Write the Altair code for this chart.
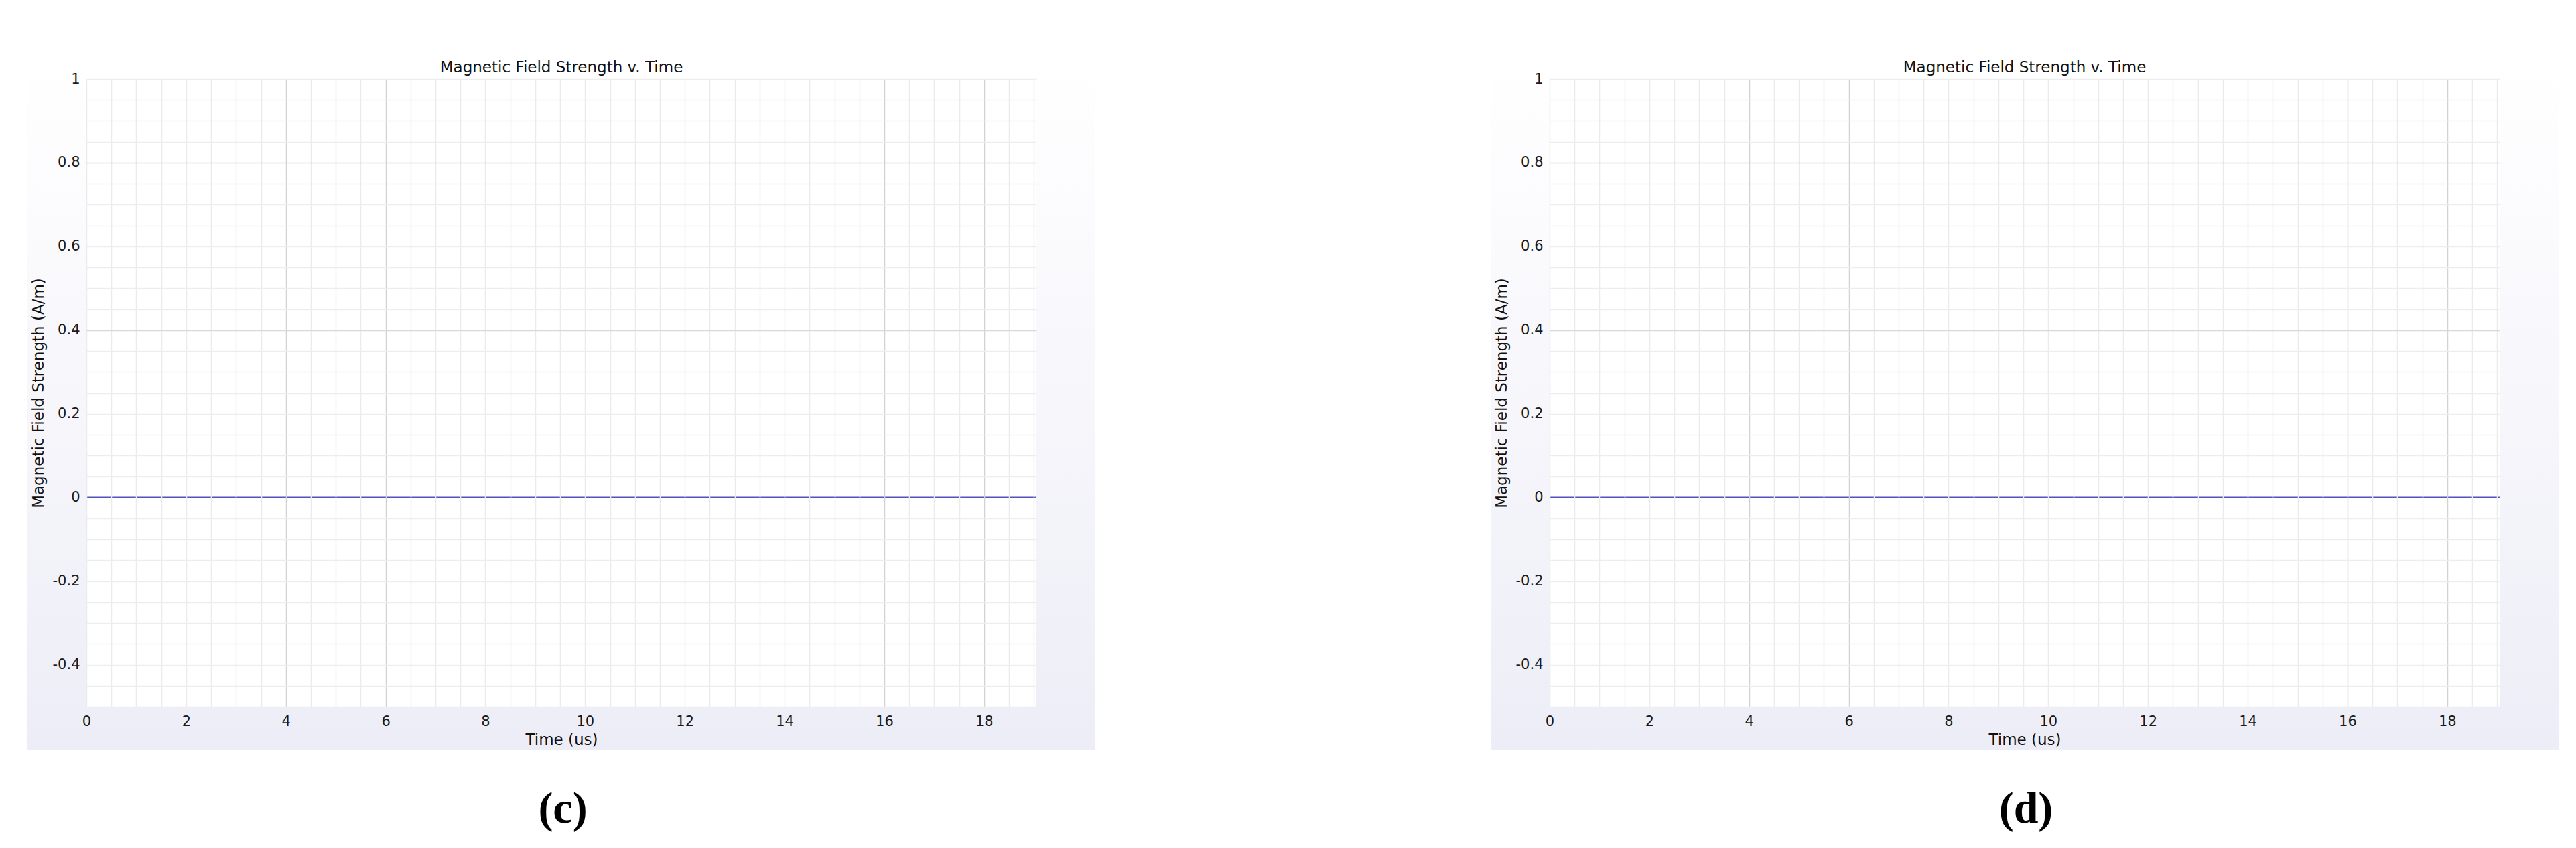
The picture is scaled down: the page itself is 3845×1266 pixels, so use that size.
import altair as alt
import pandas as pd

# ---------------- data ----------------
time_us = [0.0, 19.05]
field_c = [0.0, 0.0]
field_d = [0.0, 0.0]

x_domain = [0, 19.05]
y_domain = [-0.5, 1.0]
x_grid_ticks = [0, 0.5, 1, 1.5, 2, 2.5, 3, 3.5, 4, 4.5, 5, 5.5, 6, 6.5, 7, 7.5, 8, 8.5, 9, 9.5,
                10, 10.5, 11, 11.5, 12, 12.5, 13, 13.5, 14, 14.5, 15, 15.5, 16, 16.5, 17, 17.5, 18, 18.5, 19]
x_label_ticks = [0, 2, 4, 6, 8, 10, 12, 14, 16, 18]
dark_x_grid = [4, 6, 16, 18]
y_grid_ticks = [-0.5, -0.45, -0.4, -0.35, -0.3, -0.25, -0.2, -0.15, -0.1, -0.05, 0.0,
                0.05, 0.1, 0.15, 0.2, 0.25, 0.3, 0.35, 0.4, 0.45, 0.5,
                0.55, 0.6, 0.65, 0.7, 0.75, 0.8, 0.85, 0.9, 0.95, 1.0]
y_label_ticks = [-0.4, -0.2, 0, 0.2, 0.4, 0.6, 0.8, 1]
dark_y_grid = [0.8, 0.4]

chart_title = "Magnetic Field Strength v. Time"
x_title = "Time (us)"
y_title = "Magnetic Field Strength (A/m)"
captions = ["(c)", "(d)"]

# ---------------- layout ----------------
W, H = 1418, 937
PAD_L, PAD_R, PAD_T, PAD_B = 88, 88, 42, 64
FONT = "DejaVu Sans"

x_lab_list = ",".join(str(v) for v in x_label_ticks)
x_dark_list = ",".join(str(v) for v in dark_x_grid)
y_dark_test = " || ".join(f"abs(datum.value - {v}) < 1e-6" for v in dark_y_grid)
y_lab_test = " || ".join(f"abs(datum.value - {v}) < 1e-6" for v in y_label_ticks)


def panel(values, caption):
    df = pd.DataFrame({"time": time_us, "field": values})
    one = pd.DataFrame({"k": [0]})

    bg = alt.Chart(one).mark_rect(
        color=alt.Gradient(
            gradient="linear",
            stops=[
                alt.GradientStop(color="#ffffff", offset=0),
                alt.GradientStop(color="#fcfcfe", offset=0.2),
                alt.GradientStop(color="#ededf7", offset=1),
            ],
            x1=0, x2=0, y1=0, y2=1,
        )
    ).encode(
        x=alt.value(-PAD_L), x2=alt.value(W + PAD_R),
        y=alt.value(-PAD_T), y2=alt.value(H + PAD_B),
    )

    plot_bg = alt.Chart(one).mark_rect(color="#ffffff").encode(
        x=alt.value(0), x2=alt.value(W), y=alt.value(0), y2=alt.value(H)
    )

    line = alt.Chart(df).mark_line(color="#5252c0", strokeWidth=2.5).encode(
        x=alt.X(
            "time:Q",
            scale=alt.Scale(domain=x_domain, nice=False, zero=False),
            axis=alt.Axis(
                values=x_grid_ticks,
                labelExpr=f"indexof([{x_lab_list}], datum.value) >= 0 ? toString(datum.value) : ''",
                title=x_title,
                titleFont=FONT, titleFontSize=23, titleFontWeight="normal", titleColor="#111111",
                titleY=49, titleBaseline="middle",
                labelFont=FONT, labelFontSize=21, labelColor="#1a1a1a",
                labelPadding=22, labelBaseline="middle", labelFlush=False, labelOverlap=False,
                ticks=False, tickSize=0, domain=False,
                grid=True,
                gridColor={"condition": {"test": f"indexof([{x_dark_list}], datum.value) >= 0",
                                         "value": "#d2d2d2"},
                           "value": "#ebebeb"},
                gridWidth=1.5,
                zindex=1,
            ),
        ),
        y=alt.Y(
            "field:Q",
            scale=alt.Scale(domain=y_domain, nice=False, zero=False),
            axis=alt.Axis(
                values=y_grid_ticks,
                labelExpr=f"({y_lab_test}) ? toString(round(datum.value * 10) / 10) : ''",
                title=y_title,
                titleFont=FONT, titleFontSize=23, titleFontWeight="normal", titleColor="#111111",
                titleX=-72, titleY=H / 2, titleAngle=270, titleBaseline="middle", titleAlign="center",
                labelFont=FONT, labelFontSize=21, labelColor="#1a1a1a",
                labelPadding=10, labelBaseline="middle", labelFlush=False, labelOverlap=False,
                ticks=False, tickSize=0, domain=False,
                grid=True,
                gridColor={"condition": [
                    {"test": "abs(datum.value) < 1e-6", "value": "rgba(0,0,0,0)"},
                    {"test": y_dark_test, "value": "#d8d8d8"},
                ], "value": "#ededed"},
                gridWidth=1.5,
                zindex=1,
            ),
        ),
    )

    title = alt.Chart(one).mark_text(
        text=chart_title, font=FONT, fontSize=23, color="#111111",
        baseline="middle", align="center",
    ).encode(x=alt.value(W / 2), y=alt.value(-17))

    cap = alt.Chart(one).mark_text(
        text=caption, font="Liberation Serif", fontWeight="bold", fontSize=66,
        color="#000000", baseline="middle", align="center",
    ).encode(x=alt.value(W / 2 + 2), y=alt.value(H + 153))

    return alt.layer(bg, plot_bg, line, title, cap).properties(width=W, height=H)


chart = alt.hconcat(
    panel(field_c, captions[0]),
    panel(field_d, captions[1]),
    spacing=588,
).properties(
    padding={"left": 32, "top": 67, "right": 0, "bottom": 0},
    background="#ffffff",
).configure_view(stroke="transparent")

chart.save("out.html", embed_options={"renderer": "svg", "actions": False})
